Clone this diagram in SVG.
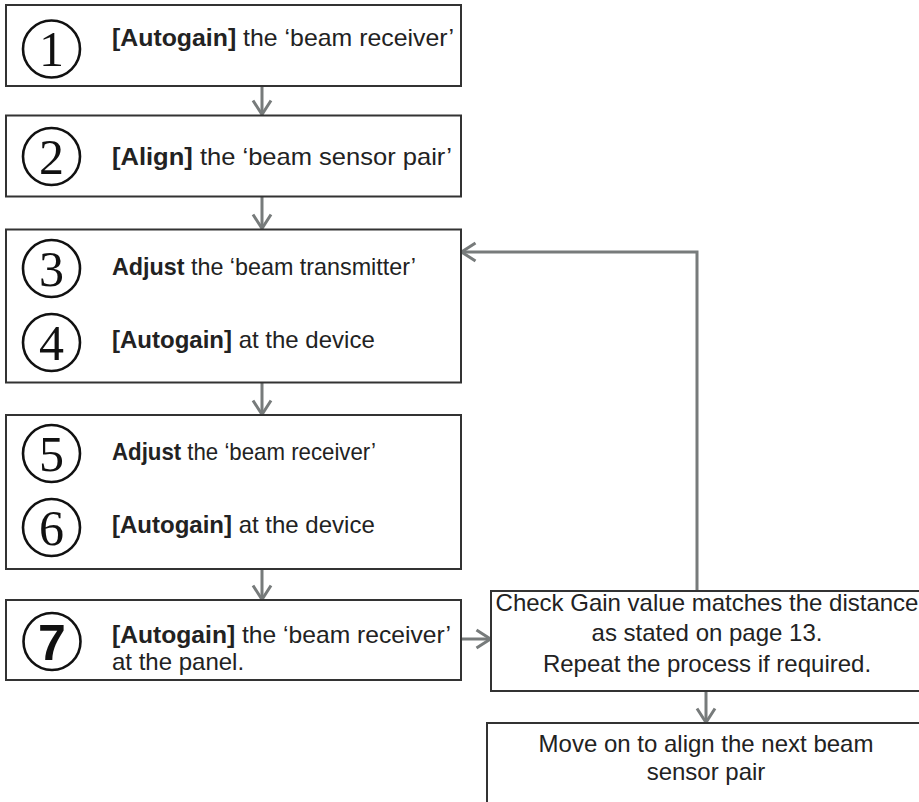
<svg xmlns="http://www.w3.org/2000/svg" width="919" height="802" viewBox="0 0 919 802">
<style>
.box{fill:#fff;stroke:#333;stroke-width:2}
.num{fill:none;stroke:#111;stroke-width:2.6}
.dig{font-family:"Liberation Serif",serif;font-size:50px;fill:#111;text-anchor:middle}
.dig7{font-family:"Liberation Sans",Arial,sans-serif;font-weight:bold;font-size:50px;fill:#111;text-anchor:middle}
.t{font-family:"Liberation Sans",Arial,sans-serif;font-size:24px;fill:#222}
.c{text-anchor:middle}
.b{font-weight:bold}
.con{fill:none;stroke:#777b7b;stroke-width:3}
</style>
<defs>
<marker id="arr" markerUnits="userSpaceOnUse" viewBox="0 0 20 22" refX="16" refY="11" markerWidth="20" markerHeight="22" orient="auto">
<path d="M2,2 L16,11 L2,20" fill="none" stroke="#777b7b" stroke-width="3"/>
</marker>
</defs>
<g id="connectors">
<line class="con" x1="262" y1="86" x2="262" y2="114.5" marker-end="url(#arr)"/>
<line class="con" x1="262" y1="197" x2="262" y2="228.5" marker-end="url(#arr)"/>
<line class="con" x1="262" y1="383" x2="262" y2="414.5" marker-end="url(#arr)"/>
<line class="con" x1="262" y1="569" x2="262" y2="599.5" marker-end="url(#arr)"/>
<line class="con" x1="461" y1="639" x2="490.5" y2="639" marker-end="url(#arr)"/>
<polyline class="con" points="697,591 697,252 461.5,252" marker-end="url(#arr)"/>
<line class="con" x1="706" y1="691" x2="706" y2="722.5" marker-end="url(#arr)"/>
</g>
<g id="step1">
<rect class="box" x="6" y="5" width="455" height="81"/>
<circle class="num" cx="51.5" cy="49" r="28.5"/>
<text class="dig" x="51.5" y="66">1</text>
<text class="t" x="112" y="46" textLength="342" lengthAdjust="spacingAndGlyphs"><tspan class="b">[Autogain]</tspan> the ‘beam receiver’</text>
</g>
<g id="step2">
<rect class="box" x="6" y="115.5" width="455" height="81"/>
<circle class="num" cx="51.5" cy="156.5" r="28.5"/>
<text class="dig" x="51.5" y="174">2</text>
<text class="t" x="112" y="165" textLength="340" lengthAdjust="spacingAndGlyphs"><tspan class="b">[Align]</tspan> the ‘beam sensor pair’</text>
</g>
<g id="step3-4">
<rect class="box" x="6" y="229.5" width="455" height="153"/>
<circle class="num" cx="51.5" cy="268.5" r="28.5"/>
<text class="dig" x="51.5" y="286">3</text>
<circle class="num" cx="51.5" cy="342.5" r="28.5"/>
<text class="dig" x="51.5" y="360">4</text>
<text class="t" x="112" y="275" textLength="304" lengthAdjust="spacingAndGlyphs"><tspan class="b">Adjust</tspan> the ‘beam transmitter’</text>
<text class="t" x="112" y="348"><tspan class="b">[Autogain]</tspan> at the device</text>
</g>
<g id="step5-6">
<rect class="box" x="6" y="415" width="455" height="154"/>
<circle class="num" cx="51.5" cy="453.5" r="28.5"/>
<text class="dig" x="51.5" y="471">5</text>
<circle class="num" cx="51.5" cy="527.5" r="28.5"/>
<text class="dig" x="51.5" y="545">6</text>
<text class="t" x="112" y="460" textLength="264" lengthAdjust="spacingAndGlyphs"><tspan class="b">Adjust</tspan> the ‘beam receiver’</text>
<text class="t" x="112" y="533"><tspan class="b">[Autogain]</tspan> at the device</text>
</g>
<g id="step7">
<rect class="box" x="6" y="600" width="455" height="80"/>
<circle class="num" cx="52" cy="641.5" r="28.5"/>
<text class="dig7" x="52" y="659.5">7</text>
<text class="t" x="112" y="643" textLength="339" lengthAdjust="spacingAndGlyphs"><tspan class="b">[Autogain]</tspan> the ‘beam receiver’</text>
<text class="t" x="112" y="670">at the panel.</text>
</g>
<g id="check">
<rect class="box" x="491" y="591" width="440" height="100"/>
<text class="t c" x="707" y="611">Check Gain value matches the distance</text>
<text class="t c" x="707" y="641">as stated on page 13.</text>
<text class="t c" x="707" y="672">Repeat the process if required.</text>
</g>
<g id="next">
<rect class="box" x="487" y="723" width="450" height="100"/>
<text class="t c" x="706" y="752">Move on to align the next beam</text>
<text class="t c" x="706" y="780">sensor pair</text>
</g>
</svg>
